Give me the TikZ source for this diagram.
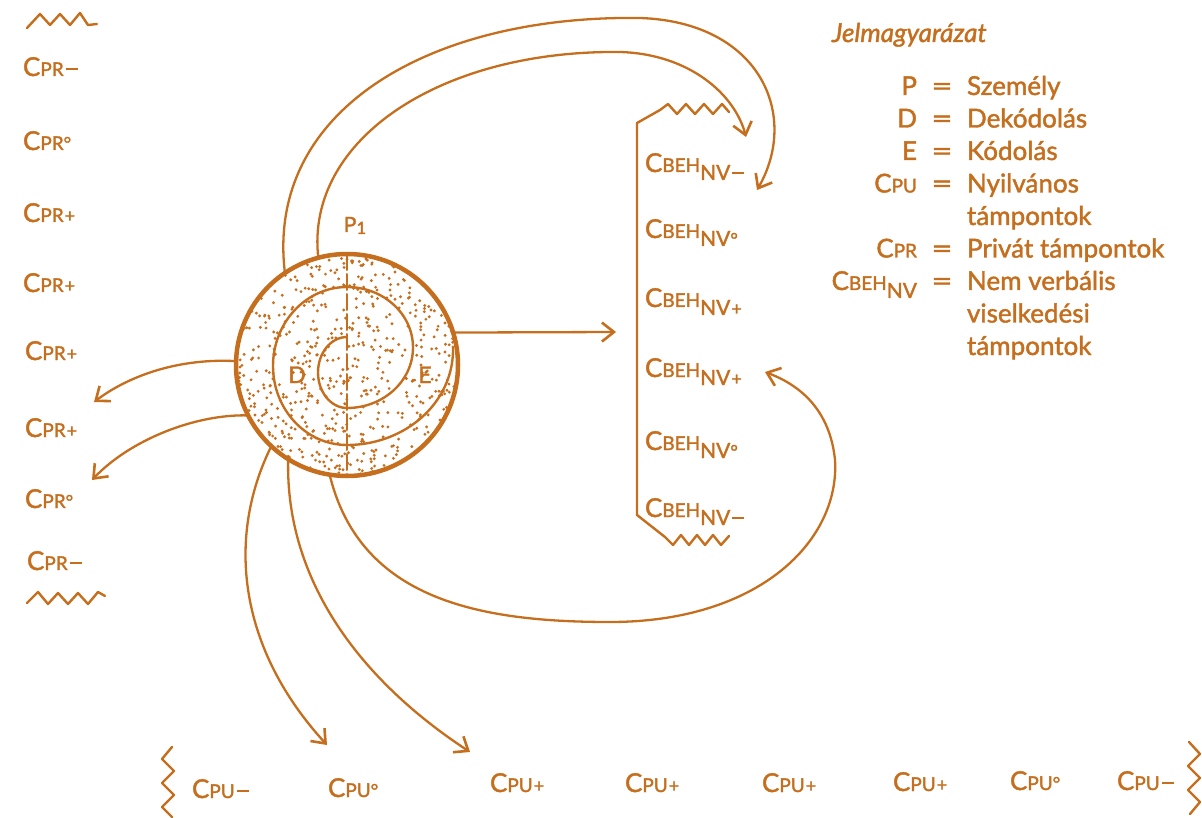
\documentclass[tikz,border=0pt]{standalone}
\usepackage{fontspec}
\setmainfont{Lato}[FakeBold=1.6]
\usetikzlibrary{arrows.meta}
\definecolor{ink}{RGB}{196,110,30}
\newcommand\smc{\fontsize{19}{20}\selectfont}
\newcommand\tnc{\fontsize{18}{18}\selectfont}
\newcommand\sgM{\kern2pt\rule[6pt]{12pt}{2pt}}
\newcommand\sgO{{\tnc °}}
\newcommand\sgP{\kern1pt{\tnc +}}
\newcommand\Cpr[1]{C{\smc PR}#1}
\newcommand\Cpu[1]{C{\smc PU}#1}
\newcommand\Cbeh[1]{C{\smc BEH}\raisebox{-8pt}{\fontsize{21}{21}\selectfont NV#1}}
\begin{document}
\begin{tikzpicture}[x=1pt,y=-1pt,ink,line width=2.3pt,line cap=round,line join=round,
  every node/.style={inner sep=0pt,outer sep=0pt,text=ink,font=\fontsize{26}{28}\selectfont},
  lab/.style={anchor=base west},
  key/.style={anchor=base east},
  eqs/.style={anchor=base},
  arr/.style={-{Straight Barb[length=12pt,width=19pt,line width=2.6pt]}},
  zz/.style={line width=2.4pt}]
\useasboundingbox (0,0) rectangle (1202,818);

% stipple
\pgfmathsetseed{12}
\begin{scope}
  \clip (347,365) circle[radius=109pt];
  \foreach \i in {1,...,720} \fill (347+111*rand,365+111*rand) circle[radius=1.6pt];
\end{scope}

% person circle
\node[circle,draw,line width=4.5pt,minimum size=222pt] (P) at (347,365) {};
\draw[line width=2pt,dash pattern=on 16pt off 4pt] (P.north) -- (P.south);
\draw[line width=2.4pt] (347,337)
  arc[start angle=90,end angle=270,x radius=29pt,y radius=35.5pt]
  arc[start angle=270,end angle=450,x radius=66pt,y radius=60.5pt]
  arc[start angle=90,end angle=270,x radius=74pt,y radius=79pt]
  arc[start angle=270,end angle=362,x radius=106pt,y radius=95pt];
\node[anchor=base] (p1) at (355,232) {\fontsize{21}{21}\selectfont P\raisebox{-2pt}{\fontsize{17}{17}\selectfont 1}};
\node[anchor=base] (d) at (297,383) {\fontsize{23}{23}\selectfont D};
\node[anchor=base] (e) at (425,383) {\fontsize{23}{23}\selectfont E};

% left column
\draw[zz] (27,28)--(40,14)--(50,25)--(60,14)--(70,25)--(80,13)--(88,25)--(97,24);
\node[lab] (l1) at (23,76) {\Cpr{\sgM}};
\node[lab] (l2) at (23,150) {\Cpr{\sgO}};
\node[lab] (l3) at (23,222) {\Cpr{\sgP}};
\node[lab] (l4) at (23,292) {\Cpr{\sgP}};
\node[lab] (l5) at (25,360) {\Cpr{\sgP}};
\node[lab] (l6) at (25,437) {\Cpr{\sgP}};
\node[lab] (l7) at (25,508) {\Cpr{\sgO}};
\node[lab] (l8) at (27,570) {\Cpr{\sgM}};
\draw[zz] (27,603)--(38,592)--(48,604)--(58,593)--(68,604)--(78,593)--(88,604)--(98,592)--(105,596);

% BEH column
\draw[zz] (729,112)--(722,104)--(713,114)--(704,104)--(695,114)--(686,104)--(677,114)--(668,104)--(660,110)--(637,123)
  --(637,515)--(665,537)--(673,545)--(681,535)--(689,545)--(697,535)--(705,545)--(713,535)--(721,545)--(729,536);
\node[lab] (b1) at (645,172) {\Cbeh{\sgM}};
\node[lab] (b2) at (645,238) {\Cbeh{\sgO}};
\node[lab] (b3) at (645,307) {\Cbeh{\sgP}};
\node[lab] (b4) at (645,377) {\Cbeh{\sgP}};
\node[lab] (b5) at (645,450) {\Cbeh{\sgO}};
\node[lab] (b6) at (645,517) {\Cbeh{\sgM}};

% bottom row
\draw[zz] (172,747)--(162,759)--(174,771)--(162,783)--(174,795)--(162,807)--(172,817);
\draw[zz] (1189,742)--(1200,754)--(1188,766)--(1200,778)--(1188,790)--(1200,802)--(1190,814);
\node[lab] (u1) at (192,798) {\Cpu{\sgM}};
\node[lab] (u2) at (328,797) {\Cpu{\sgO}};
\node[lab] (u3) at (490,792) {\Cpu{\sgP}};
\node[lab] (u4) at (625,792) {\Cpu{\sgP}};
\node[lab] (u5) at (762,792) {\Cpu{\sgP}};
\node[lab] (u6) at (893,791) {\Cpu{\sgP}};
\node[lab] (u7) at (1010,790) {\Cpu{\sgO}};
\node[lab] (u8) at (1117,790) {\Cpu{\sgM}};

% legend
\node[anchor=base west,font=\fontsize{26}{28}\selectfont\itshape] (title) at (832,42) {Jelmagyarázat};
\node[key] (k1) at (917,95) {P};
\node[eqs] (q1) at (942,95) {\scalebox{1.4}[1]{=}};
\node[lab] (v1) at (967,95) {Személy};
\node[key] (k2) at (917,127.5) {D};
\node[eqs] (q2) at (942,127.5) {\scalebox{1.4}[1]{=}};
\node[lab] (v2) at (967,127.5) {Dekódolás};
\node[key] (k3) at (917,160) {E};
\node[eqs] (q3) at (942,160) {\scalebox{1.4}[1]{=}};
\node[lab] (v3) at (967,160) {Kódolás};
\node[key] (k4) at (917,192.5) {\Cpu{}};
\node[eqs] (q4) at (942,192.5) {\scalebox{1.4}[1]{=}};
\node[lab] (v4) at (967,192.5) {Nyilvános};
\node[lab] (v4b) at (967,225) {támpontok};
\node[key] (k5) at (917,257.5) {\Cpr{}};
\node[eqs] (q5) at (942,257.5) {\scalebox{1.4}[1]{=}};
\node[lab] (v5) at (967,257.5) {Privát támpontok};
\node[key] (k6) at (917,290) {\Cbeh{}};
\node[eqs] (q6) at (942,290) {\scalebox{1.4}[1]{=}};
\node[lab] (v6) at (967,290) {Nem verbális};
\node[lab] (v6b) at (967,322.5) {viselkedési};
\node[lab] (v6c) at (967,355) {támpontok};

% connectors
\coordinate (tOut) at (757,190);
\coordinate (tIn) at (746,137);
\coordinate (tH) at (616,332);
\coordinate (tL1) at (94,402);
\coordinate (tL2) at (92,480);
\coordinate (tD1) at (327,745);
\coordinate (tD2) at (470,752);
\coordinate (tLoop) at (765,372);
\draw[arr] (P.124) .. controls (265,110) and (430,15) .. (640,18) .. controls (760,22) and (800,115) .. (tOut);
\draw[arr] (P.105) .. controls (305,140) and (440,50) .. (620,52) .. controls (690,54) and (735,95) .. (tIn);
\draw[arr] (P.17) -- (tH);
\draw[arr] (P.178) .. controls (180,358) and (130,375) .. (tL1);
\draw[arr] (P.207) .. controls (195,414) and (130,440) .. (tL2);
\draw[arr] (P.227) .. controls (225,540) and (240,650) .. (tD1);
\draw[arr] (P.238) .. controls (285,580) and (360,680) .. (tD2);
\draw[arr] (P.261) .. controls (360,600) and (480,622) .. (610,622) .. controls (760,622) and (840,540) .. (835,460) .. controls (830,410) and (800,385) .. (tLoop);
\end{tikzpicture}
\end{document}
